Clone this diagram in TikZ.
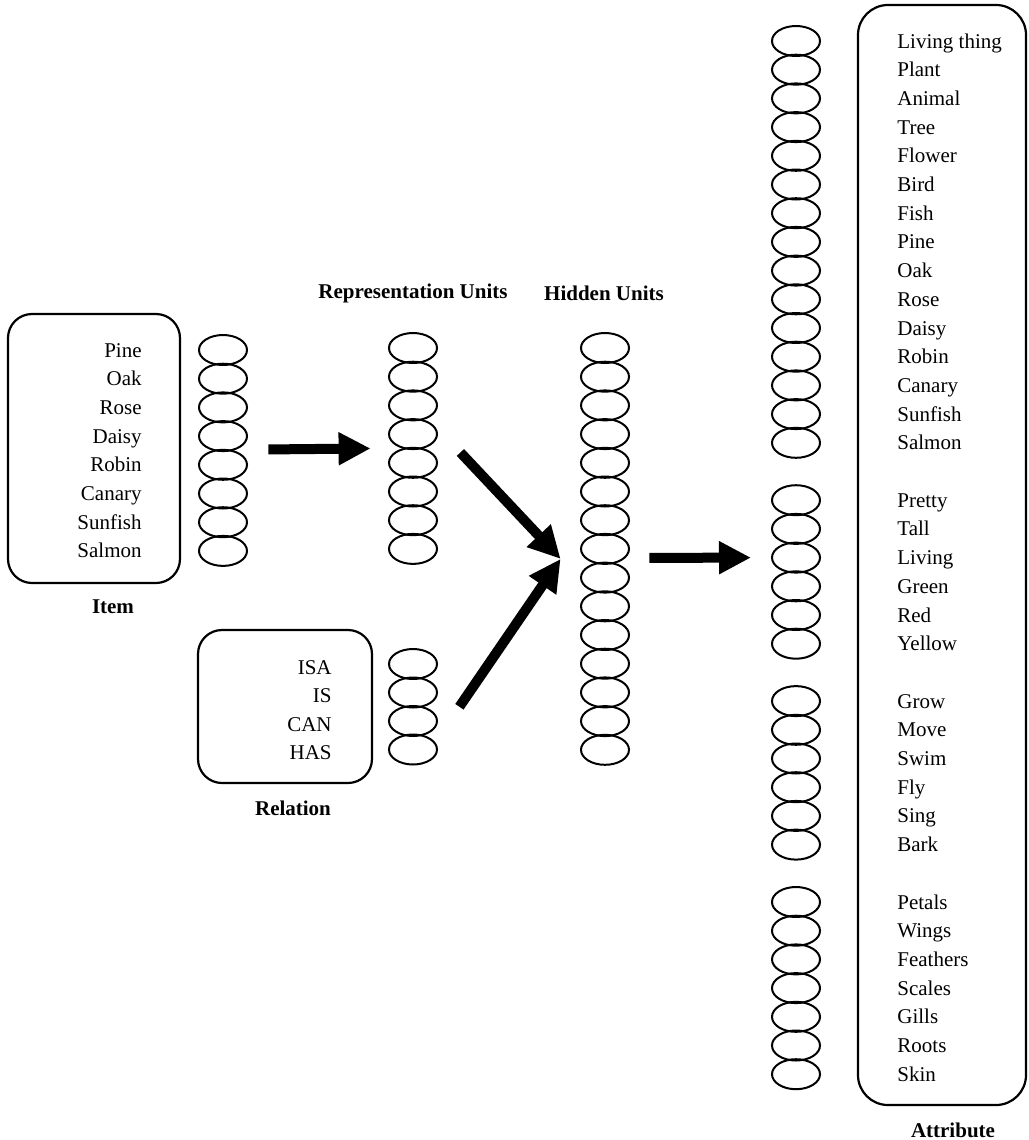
\documentclass[tikz,border=0pt]{standalone}
\usepackage{fontspec}
\setmainfont{Liberation Serif}
\usetikzlibrary{shapes.geometric, arrows.meta, fit, calc}

\begin{document}
\begin{tikzpicture}[x=0.5pt, y=-0.5pt,
    unit/.style={draw, ellipse, line width=1pt, minimum width=24pt, minimum height=15pt, inner sep=0pt},
    box/.style={draw, rectangle, rounded corners=12pt, line width=1.1pt, inner sep=0pt},
    word/.style={font=\fontsize{10.5}{12}\selectfont, inner sep=0pt, text height=7pt, text depth=0pt},
    title/.style={font=\fontsize{10.5}{12}\selectfont\bfseries, inner sep=0pt},
    bigarrow/.style={-{Triangle[length=16pt, width=15.5pt]}, line width=5pt}]
    \useasboundingbox (0,0) rectangle (1028,1140);

    % Item input
    \node[box, minimum width=86pt, minimum height=134.5pt] (itembox) at (94,448.5) {};
    \foreach \t [count=\k from 0] in {Pine, Oak, Rose, Daisy, Robin, Canary, Sunfish, Salmon} {
        \node[word, anchor=east] (itemtxt\k) at (142,{350+28.7*\k}) {\t};
        \node[unit] (item\k) at (223,{350+28.7*\k}) {};
    }
    \node[fit=(item0)(item7), inner sep=0pt] (itemcol) {};
    \node[title] (itemlab) at (113,607) {Item};

    % Relation input
    \node[box, minimum width=87pt, minimum height=76.5pt] (relbox) at (285,706.5) {};
    \foreach \t [count=\k from 0] in {ISA, IS, CAN, HAS} {
        \node[word, anchor=east] (reltxt\k) at (332,{667+28.5*\k}) {\t};
        \node[unit] (rel\k) at (413,{664+28.5*\k}) {};
    }
    \node[fit=(rel0)(rel3), inner sep=0pt] (relcol) {};
    \node[title] (rellab) at (293,808) {Relation};

    % Representation and hidden layers
    \node[title] (replab) at (413,293) {Representation Units};
    \node[title] (hidlab) at (604,293) {Hidden Units};
    \foreach \k in {0,...,7}
        \node[unit] (rep\k) at (413,{348+28.7*\k}) {};
    \foreach \k in {0,...,14}
        \node[unit] (hid\k) at (605,{348+28.7*\k}) {};
    \node[fit=(rep0)(rep7), inner sep=0pt] (repcol) {};
    \node[fit=(hid0)(hid14), inner sep=0pt] (hidcol) {};

    % Attribute output
    \node[box, rounded corners=15pt, minimum width=84pt, minimum height=550pt] (attbox) at (942,555) {};
    \foreach \t [count=\k from 0] in {Living thing, Plant, Animal, Tree, Flower, Bird, Fish, Pine, Oak, Rose, Daisy, Robin, Canary, Sunfish, Salmon} {
        \node[word, anchor=west] (atttxt\k) at (897,{41+28.7*\k}) {\t};
        \node[unit] (att\k) at (796,{41+28.7*\k}) {};
    }
    \foreach \t [count=\k from 16] in {Pretty, Tall, Living, Green, Red, Yellow} {
        \node[word, anchor=west] (atttxt\k) at (897,{41+28.7*\k}) {\t};
        \node[unit] (att\k) at (796,{41+28.7*\k}) {};
    }
    \foreach \t [count=\k from 23] in {Grow, Move, Swim, Fly, Sing, Bark} {
        \node[word, anchor=west] (atttxt\k) at (897,{41+28.7*\k}) {\t};
        \node[unit] (att\k) at (796,{41+28.7*\k}) {};
    }
    \foreach \t [count=\k from 30] in {Petals, Wings, Feathers, Scales, Gills, Roots, Skin} {
        \node[word, anchor=west] (atttxt\k) at (897,{41+28.7*\k}) {\t};
        \node[unit] (att\k) at (796,{41+28.7*\k}) {};
    }
    \node[title] (attlab) at (953,1130) {Attribute};

    % Flow arrows
    \coordinate (hin) at ($(hidcol.west)+(-19,10)$);
    \draw[bigarrow] ($(itemcol.east)+(20,-1)$) -- ($(repcol.west)+(-17,0)$);
    \draw[bigarrow] ($(repcol.east)+(22,4)$) -- (hin);
    \draw[bigarrow] ($(relcol.east)+(21,0)$) -- (hin);
    \draw[bigarrow] ($(hidcol.east)+(19,9)$) -- ($(att18.west)+(-20,0)$);
\end{tikzpicture}
\end{document}
